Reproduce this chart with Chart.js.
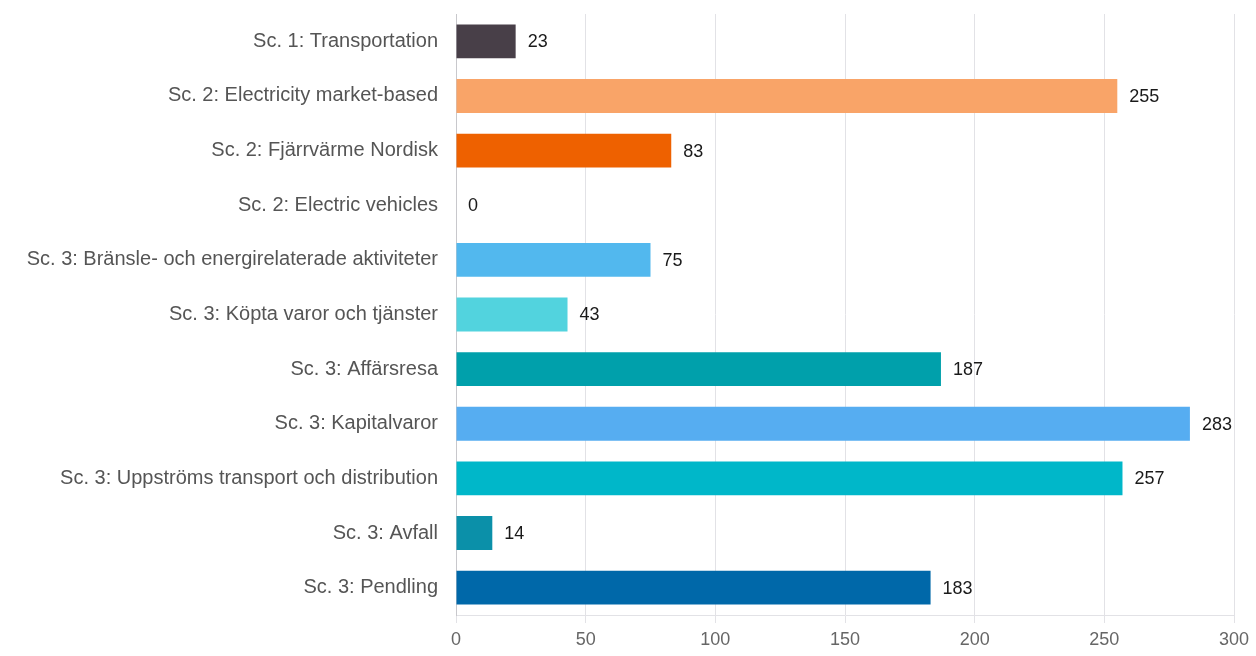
<!DOCTYPE html>
<html>
<head>
<meta charset="utf-8">
<script src="https://cdn.jsdelivr.net/npm/chart.js@4"></script>
<style>
  html, body { margin: 0; padding: 0; background: #fff; }
  #wrap { width: 1256px; height: 656px; }
</style>
</head>
<body>
<div id="wrap"><canvas id="emChart" width="1256" height="656"></canvas></div>
<script>
const categories = [
    'Sc. 1: Transportation',
    'Sc. 2: Electricity market-based',
    'Sc. 2: Fjärrvärme Nordisk',
    'Sc. 2: Electric vehicles',
    'Sc. 3: Bränsle- och energirelaterade aktiviteter',
    'Sc. 3: Köpta varor och tjänster',
    'Sc. 3: Affärsresa',
    'Sc. 3: Kapitalvaror',
    'Sc. 3: Uppströms transport och distribution',
    'Sc. 3: Avfall',
    'Sc. 3: Pendling'
];
const emissions = [23, 255, 83, 0, 75, 43, 187, 283, 257, 14, 183];
const barColors = [
    '#483f48', '#f9a468', '#ee6100', '#7a5ca8', '#52b8ee', '#52d3de',
    '#00a0ab', '#56adf1', '#00b7c9', '#0b90a9', '#0068a9'
];
const xTicks = [0, 50, 100, 150, 200, 250, 300];

const FONT = '"Liberation Sans", Arial, sans-serif';

// draws the value next to the end of each bar
const valueLabels = {
    id: 'valueLabels',
    afterDatasetsDraw(chart) {
        const ctx = chart.ctx;
        const meta = chart.getDatasetMeta(0);
        ctx.save();
        ctx.font = '18px ' + FONT;
        ctx.fillStyle = '#1a1a1a';
        ctx.textBaseline = 'middle';
        ctx.textAlign = 'left';
        meta.data.forEach((bar, i) => {
            ctx.fillText(String(emissions[i]), bar.x + 12, bar.y + 1);
        });
        ctx.restore();
    }
};

new Chart(document.getElementById('emChart').getContext('2d'), {
    type: 'bar',
    data: {
        labels: categories,
        datasets: [{
            data: emissions,
            backgroundColor: barColors,
            borderWidth: 0,
            barPercentage: 0.62,
            categoryPercentage: 1.0
        }]
    },
    options: {
        indexAxis: 'y',
        responsive: false,
        animation: false,
        layout: { padding: { top: 14, right: 22, left: 0, bottom: 0 } },
        plugins: {
            legend: { display: false },
            tooltip: { enabled: false }
        },
        scales: {
            x: {
                min: 0,
                max: 300,
                afterBuildTicks: s => { s.ticks = xTicks.map(v => ({ value: v })); },
                afterFit: s => { s.height = 41; },
                grid: { color: '#e2e2e6', lineWidth: 1, tickLength: 8 },
                border: { color: '#e2e2e6' },
                ticks: { color: '#666', font: { family: FONT, size: 18 }, padding: 6 }
            },
            y: {
                afterFit: s => { s.width = 456; s.paddingTop = 0; s.paddingBottom = 0; },
                grid: { display: false },
                border: { color: '#c8c8cc' },
                ticks: { color: '#555', font: { family: FONT, size: 20 }, padding: 10 }
            }
        }
    },
    plugins: [valueLabels]
});
</script>
</body>
</html>
